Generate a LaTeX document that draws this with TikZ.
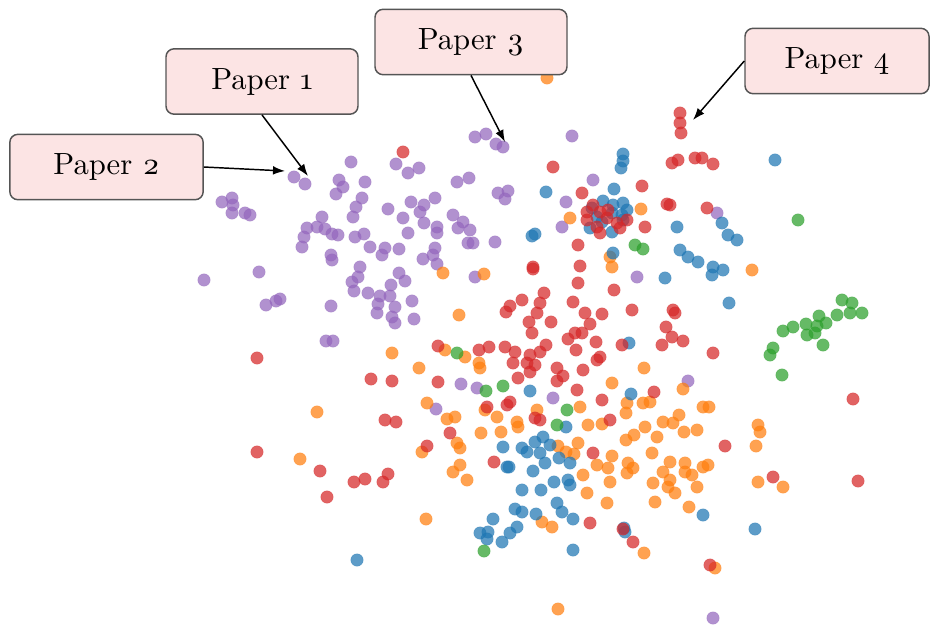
\documentclass[tikz,border=0pt]{standalone}
\usepackage{fontspec}
\setmainfont{lmroman10-regular.otf}[Numbers=OldStyle]
\usetikzlibrary{arrows.meta}
\definecolor{cPur}{RGB}{148,103,189}
\definecolor{cBlu}{RGB}{31,119,180}
\definecolor{cOra}{RGB}{255,127,14}
\definecolor{cGre}{RGB}{44,160,44}
\definecolor{cRed}{RGB}{214,39,40}
\definecolor{boxfill}{RGB}{252,228,228}
\definecolor{boxline}{RGB}{85,85,85}
\tikzset{
  dot/.style={fill=#1, fill opacity=0.72, draw=#1, draw opacity=0.3, line width=0.4pt},
  paperbox/.style={draw=boxline, fill=boxfill, line width=1.1pt, rounded corners=6pt,
    minimum width=#1, minimum height=49pt, inner sep=0pt,
    font=\fontsize{23}{27}\selectfont},
  pointer/.style={draw=black, line width=1.1pt, -{Latex[length=9pt,width=6.5pt]}}
}
\begin{document}
\begin{tikzpicture}[x=0.75pt,y=-0.75pt]
\useasboundingbox (0,0) rectangle (930,626);
\fill[white] (0,0) rectangle (930,626);

% purple cluster
\foreach \x/\y in {475/137, 486/134, 496/144, 503/147, 572/136,
351/162, 396/164, 408/173, 419/168, 294/177, 305/184, 339/180, 343/187, 336/194, 365/182, 457/182, 469/178,
362/198, 356/207, 353/217, 388/209, 411/202, 424/205, 420/212, 435/198,
322/217, 307/228, 317/227, 325/229, 332/234, 338/235, 304/237, 302/247, 355/237, 364/234,
403/218, 408/233, 424/223, 437/227, 437/233, 453/215, 458/228, 463/222, 470/230, 468/243, 473/243,
370/247, 382/255, 385/248, 399/249, 435/248, 433/255, 423/259, 437/264,
331/255, 332/260, 360/267, 358/277, 352/282, 354/291, 399/273, 405/281, 391/285,
368/293, 380/296, 390/296, 412/301, 331/306, 378/304, 395/307, 377/313, 392/317, 395/323, 414/319,
475/277, 222/202, 232/198, 233/205, 232/213, 245/213, 250/215, 204/280, 259/272, 266/305, 276/301, 280/299,
326/341, 333/341, 498/193, 508/191, 505/199, 593/180, 566/202, 562/227, 495/242, 637/277, 717/213,
461/384, 477/388, 436/409, 553/398, 688/381, 713/618}
  \path[dot=cPur] (\x,\y) circle[radius=4.7pt];

% orange cluster
\foreach \x/\y in {547/78, 570/218, 641/209, 610/257, 612/267, 484/274, 443/273, 459/315, 752/270,
392/353, 419/368, 445/350, 465/357, 479/363, 480/368, 427/403, 447/419, 455/417, 497/417, 485/410, 537/410, 517/422, 518/427, 481/433, 501/432, 457/443, 460/448, 422/452, 460/465, 453/472, 467/480,
558/446, 566/452, 574/454, 578/443, 583/475, 597/465, 608/468, 610/482, 612/456, 627/473, 628/463, 633/468, 652/453, 653/483, 663/472, 670/462, 670/480, 668/487, 675/493, 685/463, 685/472, 692/475, 697/487, 703/467, 708/465, 587/493, 607/503, 655/502, 689/507, 542/522, 552/527, 644/553, 715/568, 558/609, 426/519, 300/459, 317/412,
758/425, 760/432, 756/446, 758/482, 783/487,
627/403, 643/403, 650/402, 683/389, 644/368, 612/383, 580/407, 588/425, 602/424, 626/413, 645/427, 657/437, 663/422, 673/423, 679/415, 684/432, 697/430, 626/440, 634/435, 703/407, 709/407}
  \path[dot=cOra] (\x,\y) circle[radius=4.7pt];

% blue cluster
\foreach \x/\y in {623/154, 623/161, 621/168, 546/192, 614/189, 677/227, 535/234, 532/236, 613/253, 665/278, 775/160,
603/201, 613/205, 623/203, 592/208, 597/217, 612/213, 622/215, 623/220, 590/228, 612/232, 602/222, 627/210,
722/223, 728/235, 737/240, 680/250, 688/257, 698/262, 713/267, 712/275, 723/270, 729/303,
629/343, 631/394, 530/391, 566/427,
503/447, 522/448, 527/452, 535/442, 543/437, 550/445, 540/453, 559/458, 570/463, 545/463, 507/467, 509/467, 533/471,
522/490, 541/490, 554/482, 568/480, 570/485,
515/509, 522/512, 536/514, 557/503, 562/512, 573/519, 493/519, 517/527, 510/533, 502/542, 480/533, 488/532, 487/539, 573/550, 624/528, 625/532, 703/515, 755/529, 357/560}
  \path[dot=cBlu] (\x,\y) circle[radius=4.7pt];

% green cluster
\foreach \x/\y in {457/353, 486/391, 503/386, 567/410, 557/425, 484/551, 635/245, 643/249, 798/220,
842/300, 852/303, 862/313, 850/313, 837/315, 819/316, 826/323, 806/324, 817/326, 793/327, 783/331, 807/335, 815/333, 823/345, 773/348, 770/355, 782/375}
  \path[dot=cGre] (\x,\y) circle[radius=4.7pt];

% red cluster
\foreach \x/\y in {403/152, 553/167, 582/193, 642/186, 667/204, 670/205, 645/227, 578/245, 580/266, 533/267, 533/269, 578/283, 614/290, 544/293, 522/300, 510/306, 506/312, 540/303, 573/302, 537/313, 585/313, 602/314, 632/310, 673/310, 675/313, 529/322, 551/322, 590/324, 666/327,
680/113, 680/123, 681/133, 672/163, 678/160, 695/158, 702/158, 713/164, 707/208,
593/205, 587/212, 600/212, 607/218, 617/223, 627/220, 587/220, 597/227, 600/233, 620/228, 608/210,
672/337, 683/341, 662/345, 713/353, 622/345, 568/339, 575/333, 582/333, 596/342, 576/350, 546/345, 540/352, 530/355, 527/363, 535/365, 530/372, 532/333, 557/368, 563/376, 557/381, 583/370, 600/357, 597/360, 518/378, 513/363, 505/347, 515/352, 479/350, 489/347, 438/346, 438/382, 392/381, 371/379, 507/405, 510/402, 487/407, 535/418, 540/420, 577/390, 602/400, 654/392, 610/420, 385/420, 396/422, 450/433, 427/446, 494/462, 388/474, 383/482, 354/482, 365/479, 320/471, 327/497, 257/452, 257/358, 593/453, 725/446, 590/523, 623/529, 633/542, 710/565, 853/399, 858/481, 773/477}
  \path[dot=cRed] (\x,\y) circle[radius=4.7pt];

% callout boxes
\node[paperbox=144pt] (p1) at (262,81.5) {Paper 1};
\node[paperbox=145pt] (p2) at (106.5,167) {Paper 2};
\node[paperbox=144pt] (p3) at (471,42) {Paper 3};
\node[paperbox=138pt] (p4) at (837,61) {Paper 4};

% arrow targets
\coordinate (t1) at (308,176);
\coordinate (t2) at (285,171);
\coordinate (t3) at (505,142);
\coordinate (t4) at (693,120);

\draw[pointer] (p1.south) -- (t1);
\draw[pointer] (p2.east) -- (t2);
\draw[pointer] (p3.south) -- (t3);
\draw[pointer] (p4.west) -- (t4);
\end{tikzpicture}
\end{document}
